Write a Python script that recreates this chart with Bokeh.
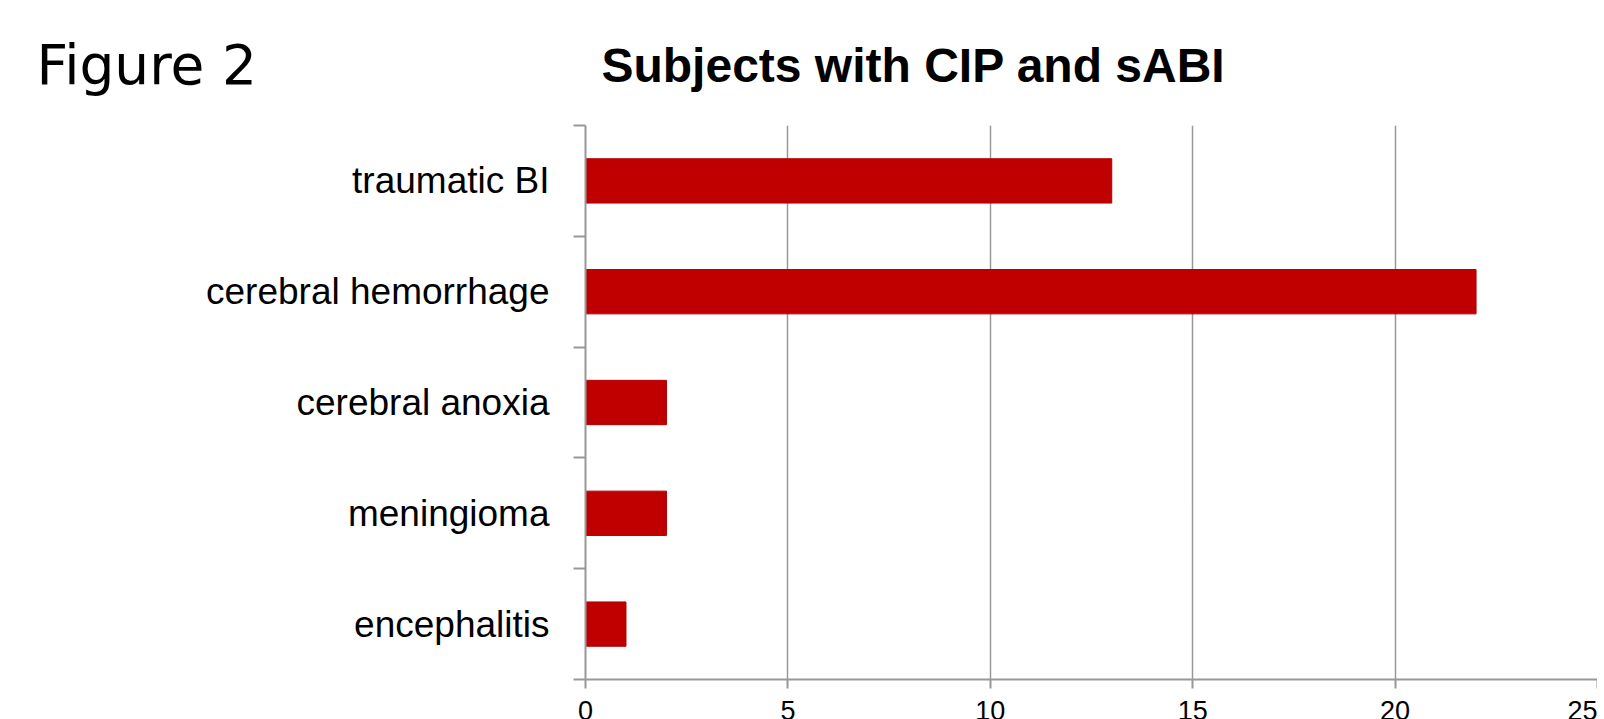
from bokeh.plotting import figure
from bokeh.models import Range1d, FixedTicker, ColumnDataSource, Label
from bokeh.embed import file_html
from bokeh.resources import INLINE

# ---- data ----
categories = ["traumatic BI", "cerebral hemorrhage", "cerebral anoxia", "meningioma", "encephalitis"]
values = [13, 22, 2, 2, 1]
x_ticks = [0, 5, 10, 15, 20, 25]
title_text = "Subjects with CIP and sABI"
figure_text = "Figure 2"

n = len(categories)
ypos = [n - i for i in range(n)]          # first category at the top
source = ColumnDataSource(dict(y=ypos, value=values, name=categories))

GRAY = "#989898"
FRAME_LEFT, FRAME_TOP, FRAME_W, FRAME_H = 585, 125, 1012, 554
X_MAX = 25
px_per_x = FRAME_W / X_MAX
px_per_y = FRAME_H / n

def to_x(px):
    return (px - FRAME_LEFT) / px_per_x

def to_y(py):
    return n + 0.5 + (FRAME_TOP - py) / px_per_y

p = figure(frame_width=FRAME_W, frame_height=FRAME_H,
           x_range=Range1d(0, X_MAX), y_range=Range1d(0.5, n + 0.5),
           output_backend="svg", toolbar_location=None,
           min_border_left=FRAME_LEFT, min_border_top=FRAME_TOP,
           min_border_right=0, min_border_bottom=0)
p.title.text = ""
p.outline_line_color = None
p.background_fill_color = "white"
p.border_fill_color = "white"

p.hbar(y="y", right="value", left=0, height=0.4, source=source,
       fill_color="#C00000", line_color="#B00000", line_width=1)

# x axis
p.xaxis.ticker = FixedTicker(ticks=x_ticks)
p.xaxis.axis_line_color = GRAY
p.xaxis.axis_line_width = 2
p.xaxis.major_tick_line_color = GRAY
p.xaxis.major_tick_line_width = 2
p.xaxis.major_tick_out = 9
p.xaxis.major_tick_in = 0
p.xaxis.minor_tick_line_color = None
p.xaxis.major_label_text_font = "Liberation Sans"
p.xaxis.major_label_text_font_size = "27px"
p.xaxis.major_label_text_color = "black"
p.xaxis.major_label_standoff = 12

# y axis: labels at category centres, ticks at category boundaries
p.yaxis.ticker = FixedTicker(ticks=ypos, minor_ticks=[k + 0.5 for k in range(n + 1)])
p.yaxis.major_label_overrides = {y: c for y, c in zip(ypos, categories)}
p.yaxis.axis_line_color = GRAY
p.yaxis.axis_line_width = 2
p.yaxis.major_tick_line_color = None
p.yaxis.major_tick_out = 0
p.yaxis.major_tick_in = 0
p.yaxis.minor_tick_line_color = GRAY
p.yaxis.minor_tick_line_width = 2
p.yaxis.minor_tick_out = 12
p.yaxis.minor_tick_in = 0
p.yaxis.major_label_text_font = "Liberation Sans"
p.yaxis.major_label_text_font_size = "37px"
p.yaxis.major_label_text_color = "black"
p.yaxis.major_label_standoff = 24

p.xgrid.grid_line_color = GRAY
p.xgrid.grid_line_width = 1.5
p.ygrid.grid_line_color = None

# header texts, placed in the top panel so they are not clipped to the frame
p.add_layout(Label(x=to_x(36), y=to_y(64), text=figure_text,
                   text_font="DejaVu Sans", text_font_size="55px",
                   text_align="left", text_baseline="alphabetic",
                   text_color="black"), "above")
p.add_layout(Label(x=to_x(913), y=to_y(65), text=title_text,
                   text_font="Liberation Sans", text_font_style="bold",
                   text_font_size="48px", text_align="center",
                   text_baseline="alphabetic", text_color="black"), "above")

html = file_html(p, INLINE)
html = html.replace("</head>", "<style>html,body{overflow:hidden;}</style></head>", 1)
open("out.html", "w").write(html)
